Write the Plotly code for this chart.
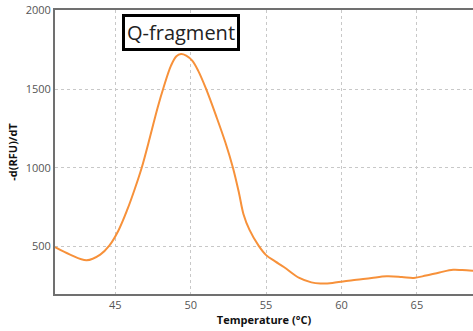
import plotly.graph_objects as go

temperature = [41.0, 42.0, 43.1, 44.0, 44.6, 45.2, 45.8, 46.3, 46.75, 47.3,
               47.8, 48.2, 48.7, 49.05, 49.36, 49.7, 50.1, 50.5, 51.0, 51.7, 52.3, 52.8, 53.2,
               53.5, 53.9, 54.5, 55.0, 55.6, 56.2, 57.2, 58.0, 58.6, 59.4, 60.1, 61.0, 62.0,
               63.0, 64.0, 64.8, 65.6, 66.5, 67.4, 68.0, 68.8]
neg_dRFU_dT = [495, 448, 412, 448, 505, 600, 735, 868, 1000, 1195,
               1380, 1510, 1650, 1708, 1722, 1712, 1680, 1615, 1505, 1325, 1160, 1000, 840,
               705, 605, 505, 445, 405, 368, 300, 272, 265, 268, 278, 288, 300,
               310, 306, 300, 315, 335, 352, 350, 345]

x_ticks = [45, 50, 55, 60, 65]
y_ticks = [500, 1000, 1500, 2000]

fig = go.Figure()
fig.add_trace(go.Scatter(
    x=temperature, y=neg_dRFU_dT, mode="lines",
    line=dict(color="#F7913A", width=2, shape="spline", smoothing=1.0),
    showlegend=False, hoverinfo="skip"))

fig.add_annotation(
    text="Q-fragment", xref="paper", yref="paper", x=0.302, y=0.922,
    xanchor="center", yanchor="middle", showarrow=False,
    font=dict(family="Open Sans", size=20, color="#222222"),
    bordercolor="#000000", borderwidth=3, borderpad=2, bgcolor="white")

fig.update_layout(
    width=473, height=331,
    margin=dict(l=55, r=0, t=10, b=37),
    paper_bgcolor="white", plot_bgcolor="white",
    font=dict(family="Open Sans", color="#555555", size=11),
)
fig.update_xaxes(
    range=[41.0, 68.72], tickvals=x_ticks, ticktext=[str(v) for v in x_ticks],
    showgrid=True, gridcolor="#C8C8C8", griddash="dot", gridwidth=1,
    showline=True, linecolor="#707070", linewidth=2, mirror=True,
    ticks="", zeroline=False,
    tickfont=dict(family="Open Sans", size=11, color="#555555"),
    title=dict(text="<b>Temperature (°C)</b>", standoff=4,
               font=dict(family="Open Sans", size=11, color="#111111")))
fig.update_yaxes(
    range=[198, 2002], tickvals=y_ticks, ticktext=[str(v) for v in y_ticks],
    showgrid=True, gridcolor="#C8C8C8", griddash="dot", gridwidth=1,
    showline=True, linecolor="#707070", linewidth=2, mirror=False,
    ticks="", zeroline=False,
    tickfont=dict(family="Open Sans", size=11, color="#555555"),
    title=dict(text="<b>-d(RFU)/dT</b>", standoff=6,
               font=dict(family="Open Sans", size=11, color="#111111")))

fig.write_html("out.html")
